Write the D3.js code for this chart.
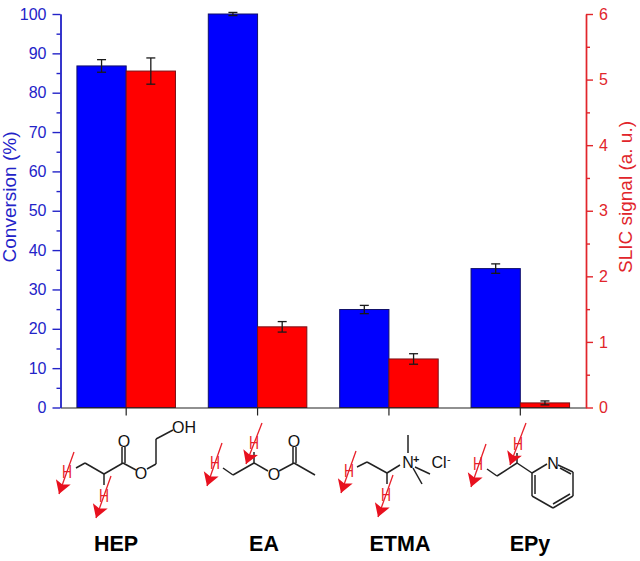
<!DOCTYPE html>
<html>
<head>
<meta charset="utf-8">
<script src="https://cdn.jsdelivr.net/npm/d3@7"></script>
<style>
  body { margin: 0; background: #fff; }
  text { font-family: "Liberation Sans", Arial, sans-serif; }
</style>
</head>
<body>
<div class="chart"></div>
<script>
const categories = ['HEP', 'EA', 'ETMA', 'EPy'];
const conversion = [86.8, 100, 24.9, 35.3];
const conversionErr = [1.6, 0.4, 1.05, 1.2];
const slic = [5.13, 1.23, 0.74, 0.07];
const slicErr = [0.2, 0.08, 0.08, 0.03];
const leftTicks = d3.range(0, 101, 10);
const leftMinor = d3.range(5, 100, 10);
const rightTicks = d3.range(0, 7, 1);
const rightMinor = d3.range(0.5, 6, 1);

const blue = '#0000ff';
const red = '#ff0000';
const blueAxis = '#2323c8';
const redAxis = '#e1252b';

const width = 640;
const height = 561;
const margin = { top: 14, right: 54, bottom: 153.5, left: 60.5 };

const svg = d3
  .select('.chart')
  .append('svg')
  .attr('width', width)
  .attr('height', height)
  .style('display', 'block');

const xScale = d3
  .scaleBand()
  .domain(categories)
  .range([margin.left, width - margin.right])
  .paddingInner(0.25)
  .paddingOuter(0.125);
const seriesScale = d3
  .scaleBand()
  .domain(['conversion', 'slic'])
  .range([0, xScale.bandwidth()]);
const yLeft = d3.scaleLinear().domain([0, 100]).range([height - margin.bottom, margin.top]);
const yRight = d3.scaleLinear().domain([0, 6]).range([height - margin.bottom, margin.top]);

// bars + error bars for one series
function drawSeries(name, values, errs, scale, fill, stroke) {
  const g = svg.append('g').attr('class', 'series-' + name);
  g.selectAll('rect')
    .data(values)
    .join('rect')
    .attr('x', (d, i) => xScale(categories[i]) + seriesScale(name))
    .attr('y', (d) => scale(d))
    .attr('width', seriesScale.bandwidth())
    .attr('height', (d) => scale(0) - scale(d))
    .attr('fill', fill)
    .attr('stroke', stroke)
    .attr('stroke-width', 1);

  const cx = (i) => xScale(categories[i]) + seriesScale(name) + seriesScale.bandwidth() / 2;
  const err = g.selectAll('g').data(values).join('g').attr('stroke', '#1a1a1a').attr('stroke-width', 1.3);
  err.append('line')
    .attr('x1', (d, i) => cx(i))
    .attr('x2', (d, i) => cx(i))
    .attr('y1', (d, i) => scale(d + errs[i]))
    .attr('y2', (d, i) => scale(d - errs[i]));
  [1, -1].forEach((sign) => {
    err.append('line')
      .attr('x1', (d, i) => cx(i) - 4.5)
      .attr('x2', (d, i) => cx(i) + 4.5)
      .attr('y1', (d, i) => scale(d + sign * errs[i]))
      .attr('y2', (d, i) => scale(d + sign * errs[i]));
  });
}
drawSeries('conversion', conversion, conversionErr, yLeft, blue, '#10106a');
drawSeries('slic', slic, slicErr, yRight, red, '#7a1015');

// x axis, names sit under the structures
const xAxis = d3.axisBottom(xScale).tickSize(8).tickSizeOuter(0).tickFormat('');
svg.append('g')
  .attr('transform', `translate(0, ${height - margin.bottom})`)
  .call(xAxis)
  .call((g) => g.selectAll('path, line').attr('stroke', '#222').attr('stroke-width', 1.2));

function styleAxis(g, color) {
  g.selectAll('path, line').attr('stroke', color).attr('stroke-width', 1.4);
  g.selectAll('text').attr('fill', color).attr('font-size', 16);
}

// left axis
svg.append('g')
  .attr('transform', `translate(${margin.left}, 0)`)
  .call(d3.axisLeft(yLeft).tickValues(leftTicks).tickSize(8).tickPadding(6).tickSizeOuter(0))
  .call(styleAxis, blueAxis);
svg.append('g')
  .attr('transform', `translate(${margin.left}, 0)`)
  .call(d3.axisLeft(yLeft).tickValues(leftMinor).tickSize(4).tickFormat('').tickSizeOuter(0))
  .call(styleAxis, blueAxis);

// right axis
svg.append('g')
  .attr('transform', `translate(${width - margin.right}, 0)`)
  .call(d3.axisRight(yRight).tickValues(rightTicks).tickFormat(d3.format('d')).tickSize(7).tickPadding(6).tickSizeOuter(0))
  .call(styleAxis, redAxis);
svg.append('g')
  .attr('transform', `translate(${width - margin.right}, 0)`)
  .call(d3.axisRight(yRight).tickValues(rightMinor).tickSize(4).tickFormat('').tickSizeOuter(0))
  .call(styleAxis, redAxis);

// axis titles
svg.append('text')
  .attr('transform', 'translate(16, 197) rotate(-90)')
  .attr('text-anchor', 'middle')
  .attr('fill', blueAxis)
  .attr('font-size', 19)
  .text('Conversion (%)');
svg.append('text')
  .attr('transform', 'translate(632, 197) rotate(-90)')
  .attr('text-anchor', 'middle')
  .attr('fill', redAxis)
  .attr('font-size', 19)
  .text('SLIC signal (a. u.)');

// compound names
const nameX = [116, 264, 400, 530];
svg.selectAll('.name')
  .data(categories)
  .join('text')
  .attr('class', 'name')
  .attr('x', (d, i) => nameX[i])
  .attr('y', 551)
  .attr('text-anchor', 'middle')
  .attr('font-size', 21.5)
  .attr('font-weight', 'bold')
  .attr('fill', '#000')
  .text((d) => d);

// chemical structures (decoration, page px)
const bonds = [
  // HEP
  [76, 468, 85, 463], [85, 463, 104, 474], [104, 474, 123, 463], [104, 474, 104, 485],
  [122, 463, 122, 447], [125, 463, 125, 447], [123, 463, 136, 470], [147, 469, 156, 464],
  [156, 464, 156, 439], [156, 439, 173, 430],
  // EA
  [223, 468, 233, 475], [233, 475, 254, 463], [254, 463, 268, 471], [254, 463, 254, 452],
  [279, 471, 294, 463], [293, 463, 293, 447], [296, 463, 296, 447], [294, 463, 315, 475],
  // ETMA
  [357, 467, 367, 462], [367, 462, 387, 473], [387, 473, 400, 465], [387, 473, 387, 484],
  [408, 453, 408, 435], [415, 467, 430, 474], [413, 468, 422, 484],
  // EPy
  [487, 469, 497, 476], [497, 476, 517, 463], [517, 463, 532, 473], [517, 463, 517, 453],
  [532, 473, 547, 464], [558, 465, 573, 472], [573, 472, 573, 496], [573, 496, 553, 508],
  [553, 508, 532, 496], [532, 496, 532, 473], [535, 475, 535, 494], [553, 504, 570, 494],
  [560, 468, 571, 474]
];
svg.append('g')
  .selectAll('line')
  .data(bonds)
  .join('line')
  .attr('x1', (d) => d[0])
  .attr('y1', (d) => d[1])
  .attr('x2', (d) => d[2])
  .attr('y2', (d) => d[3])
  .attr('stroke', '#222')
  .attr('stroke-width', 1.5);

const atoms = [
  ['O', 124, 447], ['O', 141, 479], ['OH', 184, 433],
  ['O', 294, 447], ['O', 274, 480],
  ['N', 408, 468], ['Cl', 439, 468],
  ['N', 553, 469]
];
svg.append('g')
  .selectAll('text')
  .data(atoms)
  .join('text')
  .attr('x', (d) => d[1])
  .attr('y', (d) => d[2])
  .attr('text-anchor', 'middle')
  .attr('font-size', 16)
  .attr('fill', '#111')
  .text((d) => d[0]);
svg.append('text').attr('x', 413).attr('y', 463).attr('font-size', 11).attr('font-weight', 'bold').attr('fill', '#111').text('+');
svg.append('text').attr('x', 447).attr('y', 463).attr('font-size', 11).attr('fill', '#111').text('-');

// red H arrows: tail x, tail y, tip x, tip y, H x, H y
const arrows = [
  [74, 452, 59, 494, 67, 478], [111, 476, 96, 518, 104, 502],
  [222, 443, 207, 486, 215, 469], [262, 423, 246, 464, 254, 449],
  [356, 451, 341, 493, 349, 477], [393, 475, 378, 517, 386, 501],
  [486, 444, 471, 487, 478, 470], [526, 423, 510, 465, 518, 450]
];
const arrowG = svg.append('g').selectAll('g').data(arrows).join('g');
arrowG.append('line')
  .attr('x1', (d) => d[0])
  .attr('y1', (d) => d[1])
  .attr('x2', (d) => d[2])
  .attr('y2', (d) => d[3])
  .attr('stroke', '#e8202a')
  .attr('stroke-width', 1.3);
arrowG.append('path')
  .attr('d', (d) => {
    const a = Math.atan2(d[3] - d[1], d[2] - d[0]);
    const pt = (r, t) => [d[2] - r * Math.cos(a + t), d[3] - r * Math.sin(a + t)];
    return 'M' + [[d[2], d[3]], pt(15, 0.55), pt(10, 0), pt(15, -0.55)].join('L') + 'Z';
  })
  .attr('fill', '#e8101e');
arrowG.append('text')
  .attr('x', (d) => d[4])
  .attr('y', (d) => d[5])
  .attr('text-anchor', 'middle')
  .attr('font-size', 18)
  .attr('textLength', 10)
  .attr('lengthAdjust', 'spacingAndGlyphs')
  .attr('fill', '#e8202a')
  .text('H');
</script>
</body>
</html>
